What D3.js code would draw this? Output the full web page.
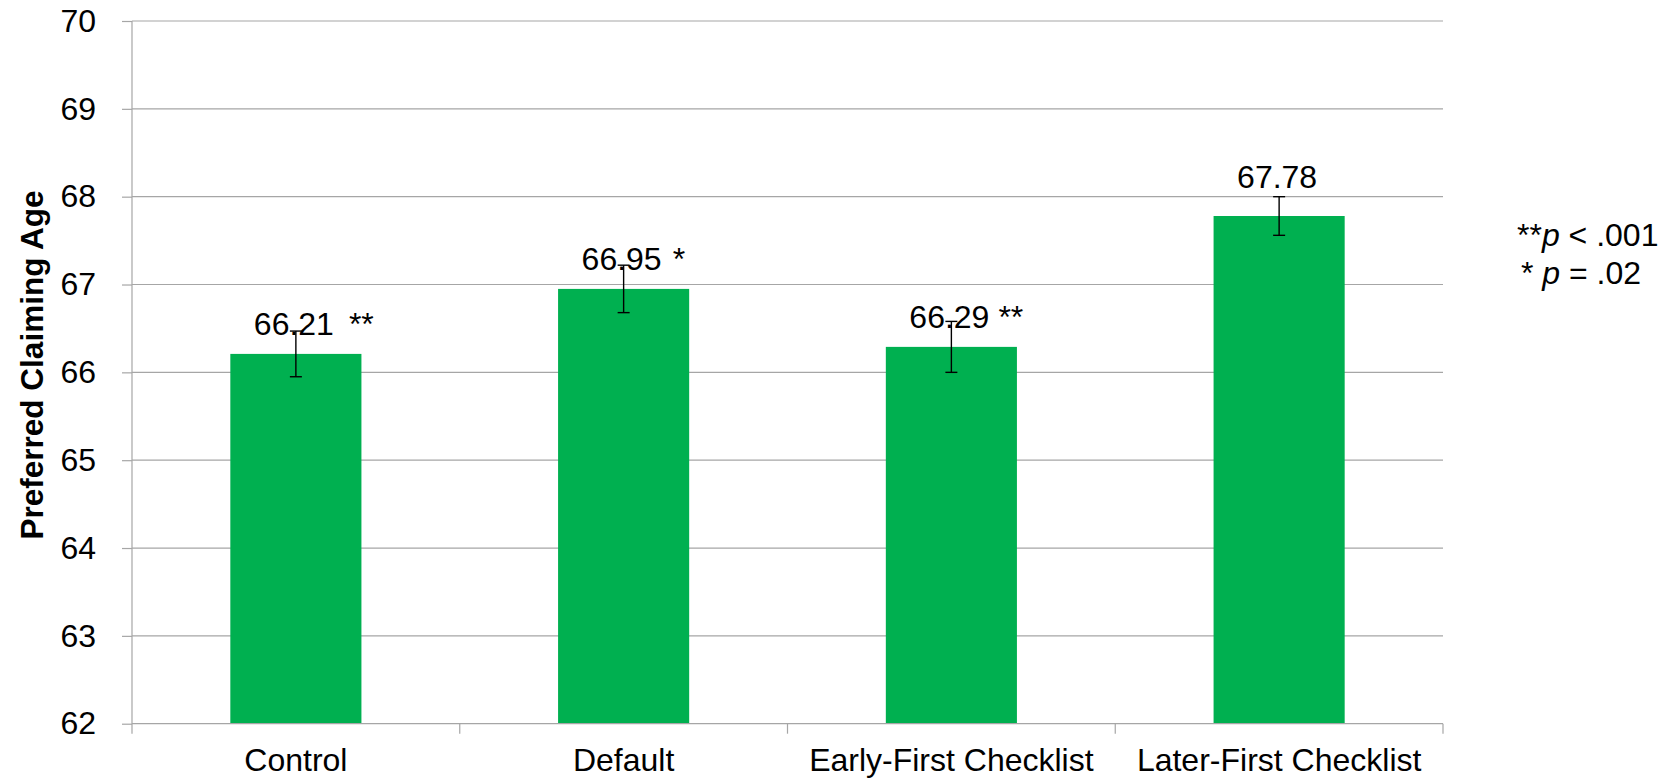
<!DOCTYPE html>
<html>
<head>
<meta charset="utf-8">
<script src="https://cdn.jsdelivr.net/npm/d3@7"></script>
<style>
  html, body { margin: 0; padding: 0; background: #fff; }
  svg { display: block; font-family: Arial, "Liberation Sans", Helvetica, sans-serif; }
</style>
</head>
<body>
<svg id="chart" width="1678" height="778"></svg>
<script>
// Preferred claiming age by condition, with standard-error bars
const categories = ["Control", "Default", "Early-First Checklist", "Later-First Checklist"];
const means = [66.21, 66.95, 66.29, 67.78];
const errors = [0.26, 0.27, 0.29, 0.22];
const significance = ["**", "*", "**", ""];
const yTicks = [62, 63, 64, 65, 66, 67, 68, 69, 70];
const yTitle = "Preferred Claiming Age";

const svg = d3.select("#chart");
const plotLeft = 132, plotRight = 1443, plotTop = 21, plotBottom = 723.7;
const gridColor = "#a6a6a6";
const barColor = "#00b050";
const fontSize = 32;

const x = d3.scaleBand().domain(categories).range([plotLeft, plotRight]).paddingInner(0.6).paddingOuter(0.3);
const y = d3.scaleLinear().domain([62, 70]).range([plotBottom, plotTop]);
const band = d3.scaleBand().domain(categories).range([plotLeft, plotRight]);

// horizontal gridlines
svg.append("g").selectAll("line").data(yTicks.filter(t => t > 62)).join("line")
  .attr("x1", plotLeft).attr("x2", plotRight)
  .attr("y1", d => y(d)).attr("y2", d => y(d))
  .attr("stroke", gridColor).attr("stroke-width", 1.2);

// y axis
const yAxis = svg.append("g").attr("transform", `translate(${plotLeft},0)`)
  .call(d3.axisLeft(y).tickValues(yTicks).tickSize(10).tickPadding(26).tickFormat(d3.format("d")));
yAxis.select(".domain").remove();
yAxis.selectAll(".tick line").attr("stroke", gridColor).attr("stroke-width", 1.2);
yAxis.selectAll(".tick text").attr("font-size", fontSize).attr("fill", "#000")
  .attr("font-family", "Arial, 'Liberation Sans', sans-serif");
svg.append("line").attr("x1", plotLeft).attr("x2", plotLeft).attr("y1", plotTop).attr("y2", plotBottom + 10)
  .attr("stroke", gridColor).attr("stroke-width", 1.2);

// bars
svg.append("g").selectAll("rect").data(categories).join("rect")
  .attr("x", d => x(d)).attr("width", x.bandwidth())
  .attr("y", (d, i) => y(means[i])).attr("height", (d, i) => y(62) - y(means[i]))
  .attr("fill", barColor);

// x axis with boundary ticks between categories
svg.append("line").attr("x1", plotLeft).attr("x2", plotRight).attr("y1", plotBottom).attr("y2", plotBottom)
  .attr("stroke", gridColor).attr("stroke-width", 1.2);
const boundaries = categories.map(c => band(c)).concat([plotRight]);
svg.append("g").selectAll("line").data(boundaries.slice(1)).join("line")
  .attr("x1", d => d).attr("x2", d => d).attr("y1", plotBottom).attr("y2", plotBottom + 10)
  .attr("stroke", gridColor).attr("stroke-width", 1.2);
svg.append("g").selectAll("text").data(categories).join("text")
  .attr("x", d => band(d) + band.bandwidth() / 2).attr("y", 771)
  .attr("text-anchor", "middle").attr("font-size", fontSize).attr("fill", "#000")
  .text(d => d);

// error bars
const eb = svg.append("g").attr("stroke", "#000").attr("stroke-width", 1.4);
categories.forEach((c, i) => {
  const cx = x(c) + x.bandwidth() / 2;
  const y1 = y(means[i] + errors[i]), y2 = y(means[i] - errors[i]);
  eb.append("line").attr("x1", cx).attr("x2", cx).attr("y1", y1).attr("y2", y2);
  eb.append("line").attr("x1", cx - 6).attr("x2", cx + 6).attr("y1", y1).attr("y2", y1);
  eb.append("line").attr("x1", cx - 6).attr("x2", cx + 6).attr("y1", y2).attr("y2", y2);
});

// value labels with significance markers
const labelLift = [19, 19, 19, 28];
const starGap = [15, 11, 9, 0];
categories.forEach((c, i) => {
  const cx = x(c) + x.bandwidth() / 2;
  const ly = y(means[i]) - labelLift[i];
  const t = svg.append("text").attr("x", cx - 2).attr("y", ly)
    .attr("text-anchor", "middle").attr("font-size", fontSize).attr("fill", "#000")
    .text(d3.format(".2f")(means[i]));
  if (significance[i]) {
    const w = t.node().getComputedTextLength();
    svg.append("text").attr("x", cx - 2 + w / 2 + starGap[i]).attr("y", ly)
      .attr("font-size", fontSize).attr("fill", "#000").text(significance[i]);
  }
});

// y axis title
svg.append("text")
  .attr("transform", `translate(43,365) rotate(-90)`)
  .attr("text-anchor", "middle").attr("font-size", 31.5).attr("font-weight", "bold")
  .attr("fill", "#000").text(yTitle);

// significance key
const key = [
  { stars: "**", rest: " < .001", x: 1517, y: 246 },
  { stars: "* ", rest: " = .02", x: 1521, y: 284 }
];
key.forEach(k => {
  const t = svg.append("text").attr("x", k.x).attr("y", k.y).attr("font-size", fontSize).attr("fill", "#000")
    .attr("xml:space", "preserve").style("white-space", "pre");
  t.append("tspan").text(k.stars);
  t.append("tspan").attr("font-style", "italic").text("p");
  t.append("tspan").text(k.rest);
});
</script>
</body>
</html>
